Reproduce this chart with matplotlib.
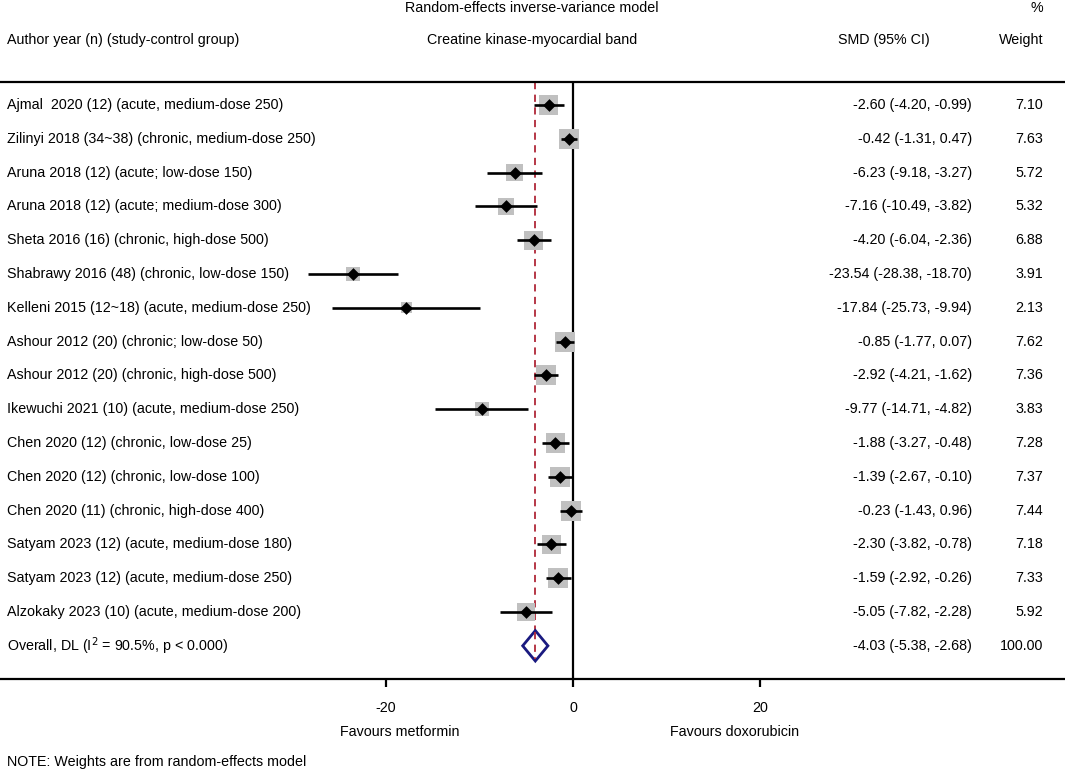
import matplotlib.pyplot as plt
import numpy as np

plt.rcParams['font.family'] = ['Liberation Sans', 'DejaVu Sans']
plt.rcParams['axes.unicode_minus'] = False

studies = ["Ajmal  2020 (12) (acute, medium-dose 250)",
           "Zilinyi 2018 (34~38) (chronic, medium-dose 250)",
           "Aruna 2018 (12) (acute; low-dose 150)",
           "Aruna 2018 (12) (acute; medium-dose 300)",
           "Sheta 2016 (16) (chronic, high-dose 500)",
           "Shabrawy 2016 (48) (chronic, low-dose 150)",
           "Kelleni 2015 (12~18) (acute, medium-dose 250)",
           "Ashour 2012 (20) (chronic; low-dose 50)",
           "Ashour 2012 (20) (chronic, high-dose 500)",
           "Ikewuchi 2021 (10) (acute, medium-dose 250)",
           "Chen 2020 (12) (chronic, low-dose 25)",
           "Chen 2020 (12) (chronic, low-dose 100)",
           "Chen 2020 (11) (chronic, high-dose 400)",
           "Satyam 2023 (12) (acute, medium-dose 180)",
           "Satyam 2023 (12) (acute, medium-dose 250)",
           "Alzokaky 2023 (10) (acute, medium-dose 200)"]
smd = [-2.60, -0.42, -6.23, -7.16, -4.20, -23.54, -17.84, -0.85, -2.92, -9.77, -1.88, -1.39, -0.23, -2.30, -1.59, -5.05]
lo = [-4.20, -1.31, -9.18, -10.49, -6.04, -28.38, -25.73, -1.77, -4.21, -14.71, -3.27, -2.67, -1.43, -3.82, -2.92, -7.82]
hi = [-0.99, 0.47, -3.27, -3.82, -2.36, -18.70, -9.94, 0.07, -1.62, -4.82, -0.48, -0.10, 0.96, -0.78, -0.26, -2.28]
weight = [7.10, 7.63, 5.72, 5.32, 6.88, 3.91, 2.13, 7.62, 7.36, 3.83, 7.28, 7.37, 7.44, 7.18, 7.33, 5.92]
overall = (-4.03, -5.38, -2.68)
overall_label = "Overall, DL (I$^2$ = 90.5%, p < 0.000)"
xticks = [-20, 0, 20]

W, H = 1065, 773
fig = plt.figure(figsize=(W / 100, H / 100), dpi=100)
ax = fig.add_axes([0, 1 - 679 / H, 1, (679 - 82) / H])

pxu = 187 / 20.0
ax.set_xlim(-573 / pxu, (W - 573) / pxu)
row0, dy = 105, 33.8
ax.set_ylim((679 - row0) / dy, (82 - row0) / dy)

n = len(studies)
y = np.arange(n)

# CI lines, weight squares, point estimates
ax.hlines(y, lo, hi, color='black', lw=1.9, zorder=3)
side_px = 7.3 * np.sqrt(weight)
ax.scatter(smd, y, s=(side_px * 0.72) ** 2, marker='s', color='#c0c0c0', zorder=2, linewidths=0)
ax.scatter(smd, y, s=42, marker='D', color='black', zorder=4, linewidths=0)

# null line and overall line
ax.axvline(0, color='black', lw=1.6, zorder=1)
ax.plot([overall[0], overall[0]], [ax.get_ylim()[1], n + 0.48], color='#b02838', lw=1.3,
        ls=(0, (4, 3)), zorder=1)
dh = 0.45
ax.fill([overall[1], overall[0], overall[2], overall[0]], [n, n - dh, n, n + dh],
        facecolor='white', edgecolor='#1a1a80', lw=2, zorder=3)
ax.plot([overall[0], overall[0]], [n - dh + 0.05, n + dh - 0.05], color='#b02838', lw=1.3,
        ls=(0, (4, 3)), zorder=4)

for s in ['left', 'right']:
    ax.spines[s].set_visible(False)
for s in ['top', 'bottom']:
    ax.spines[s].set_linewidth(1.6)
ax.set_yticks([])
ax.set_xticks(xticks)
ax.tick_params(axis='x', length=6, width=1.6, labelsize=10.3, pad=10)

tr = ax.get_yaxis_transform()
fs = 10.3
labels = studies + [overall_label]
est = list(zip(smd, lo, hi)) + [overall]
wts = weight + [100.0]
for i in range(n + 1):
    ax.text(7 / W, i, labels[i], transform=tr, fontsize=fs, va='center', ha='left')
    e = est[i]
    ax.text(972 / W, i, f"{e[0]:.2f} ({e[1]:.2f}, {e[2]:.2f})", transform=tr, fontsize=fs,
            va='center', ha='right')
    ax.text(1043 / W, i, f"{wts[i]:.2f}", transform=tr, fontsize=fs, va='center', ha='right')

# headers
fig.text(532 / W, 1 - 8 / H, "Random-effects inverse-variance model", fontsize=fs, ha='center', va='center')
fig.text(1043 / W, 1 - 8 / H, "%", fontsize=fs, ha='right', va='center')
fig.text(7 / W, 1 - 40 / H, "Author year (n) (study-control group)", fontsize=fs, ha='left', va='center')
fig.text(532 / W, 1 - 40 / H, "Creatine kinase-myocardial band", fontsize=fs, ha='center', va='center')
fig.text(884 / W, 1 - 40 / H, "SMD (95% CI)", fontsize=fs, ha='center', va='center')
fig.text(1043 / W, 1 - 40 / H, "Weight", fontsize=fs, ha='right', va='center')

fig.text(400 / W, 1 - 732 / H, "Favours metformin", fontsize=fs, ha='center', va='center')
fig.text(735 / W, 1 - 732 / H, "Favours doxorubicin", fontsize=fs, ha='center', va='center')
fig.text(7 / W, 1 - 762 / H, "NOTE: Weights are from random-effects model", fontsize=fs, ha='left', va='center')

fig.savefig("out.png", dpi=100, facecolor='white')
